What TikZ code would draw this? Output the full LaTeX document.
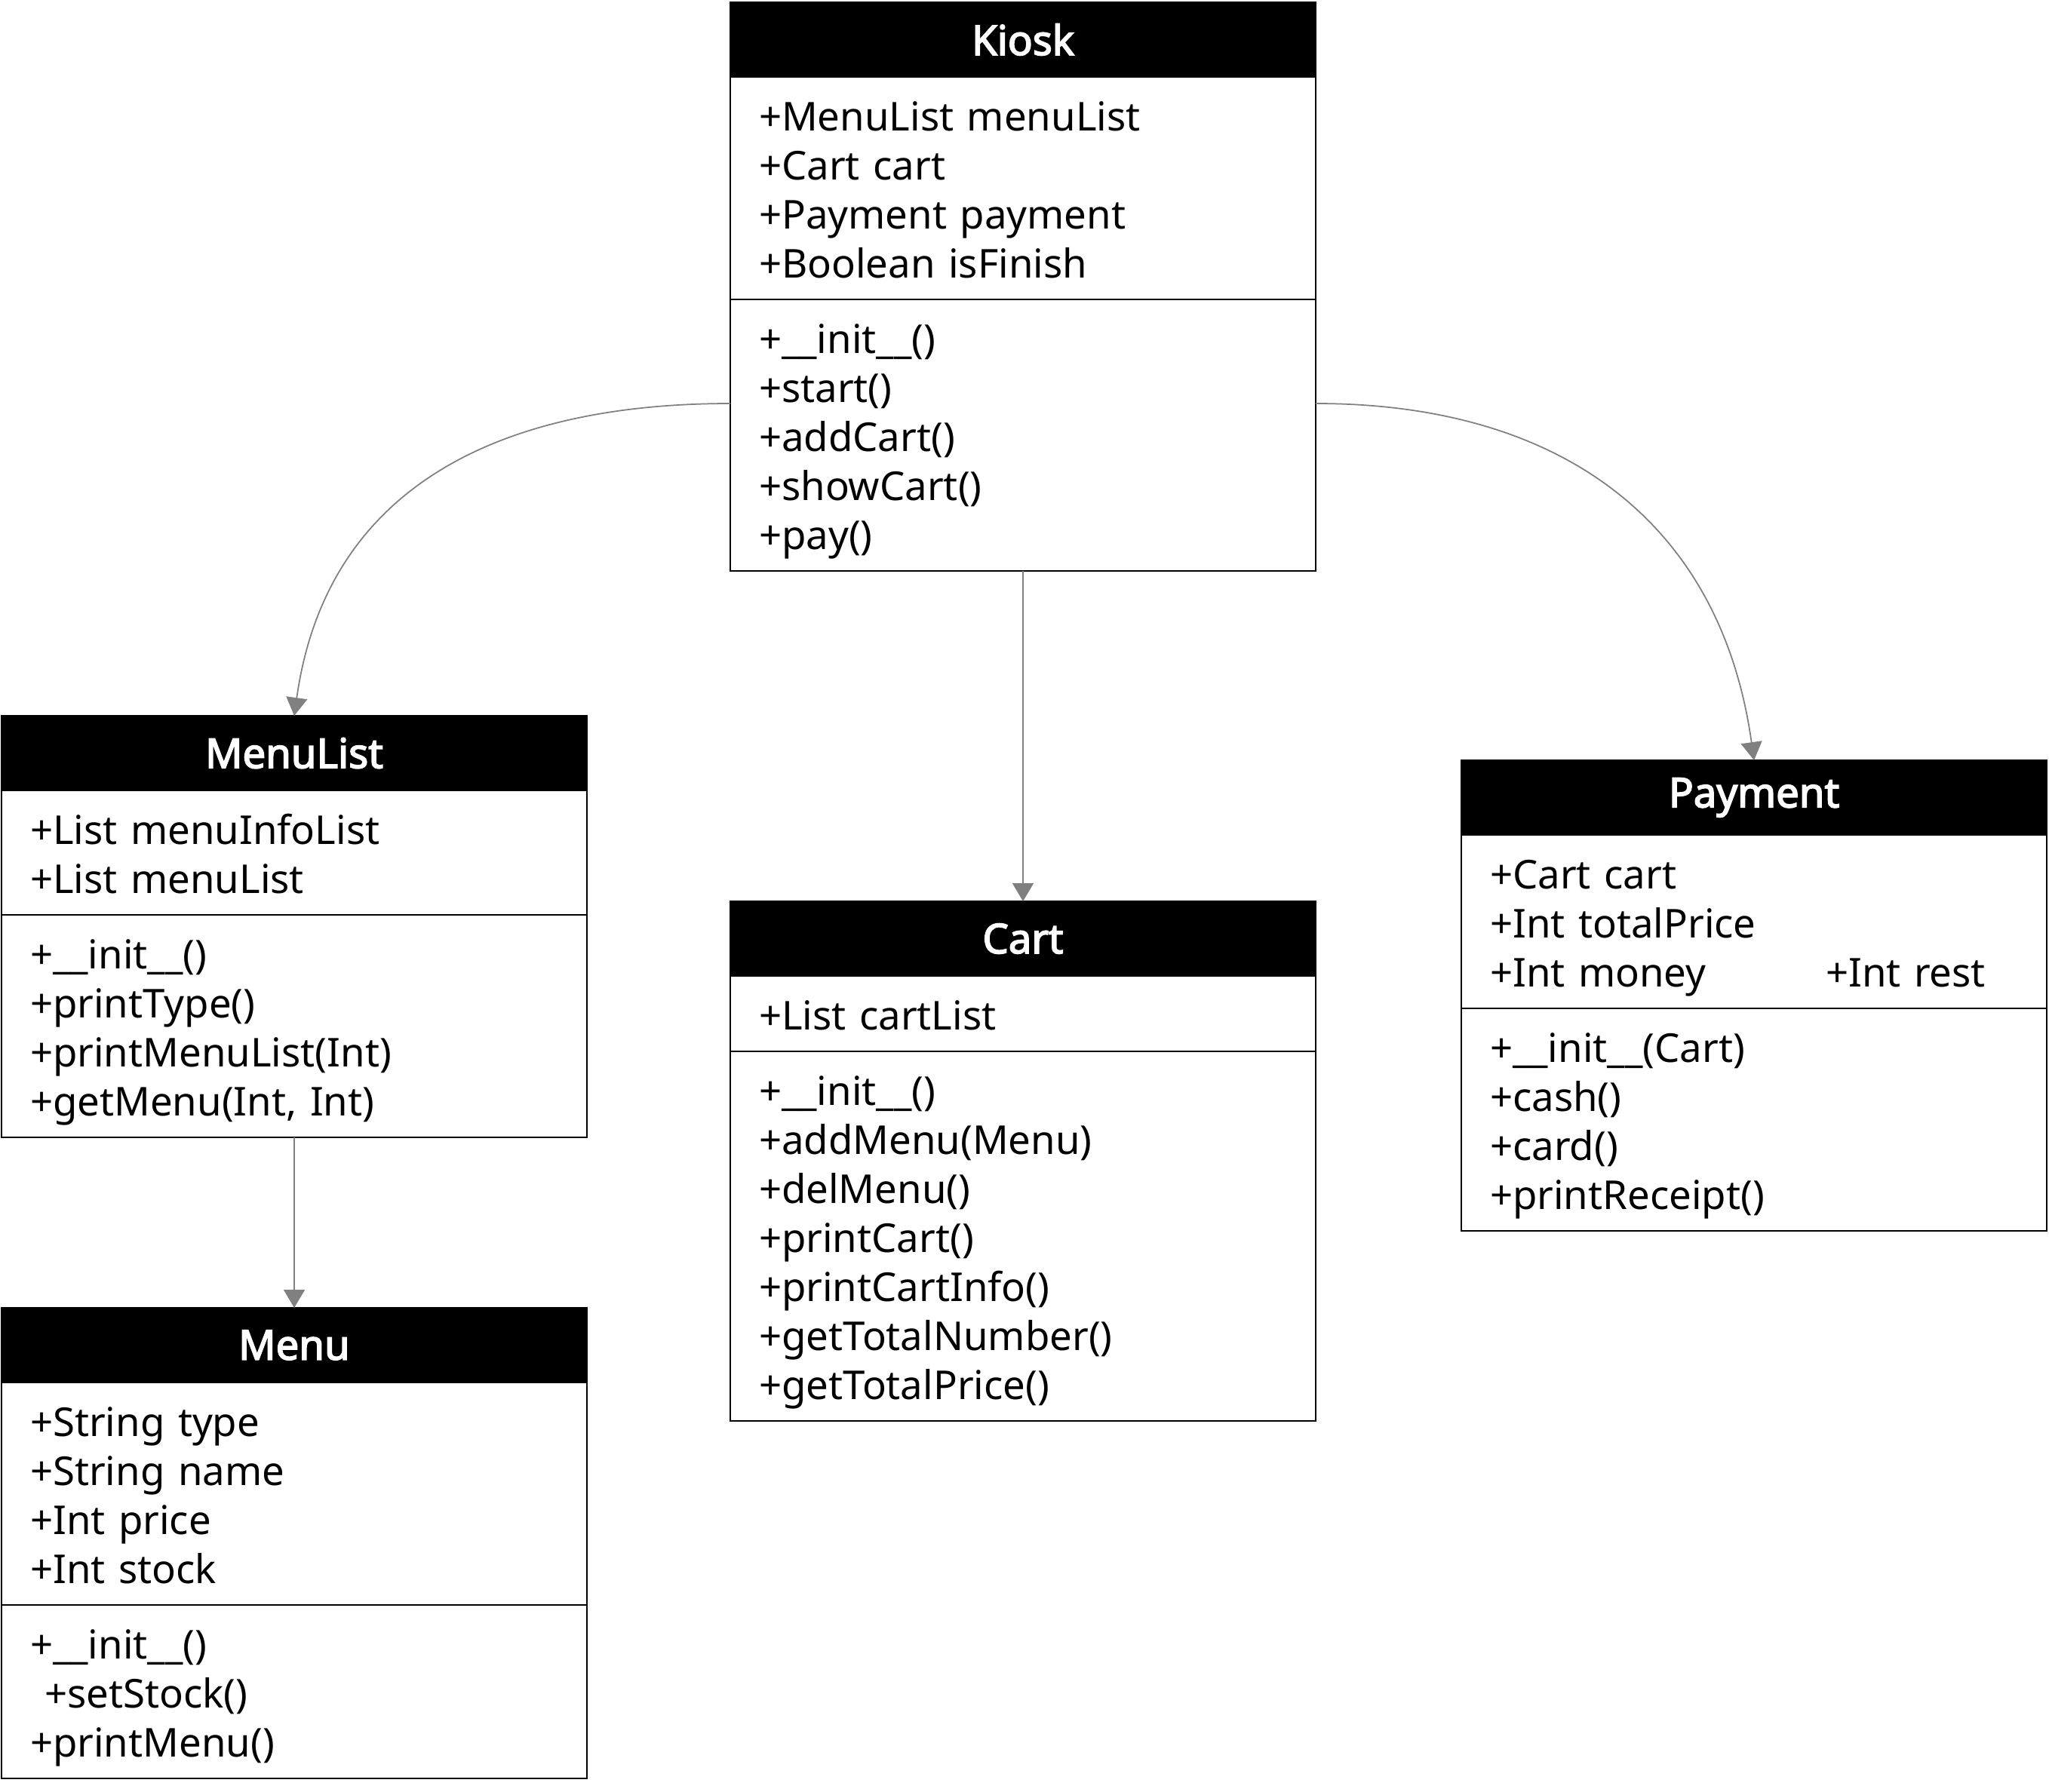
\documentclass[tikz,border=0pt]{standalone}
\usepackage{fontspec}
\setmainfont{Noto Sans}
\newfontfamily\headfont{Noto Sans}[FakeBold=3]
\usetikzlibrary{positioning,arrows.meta}
\newcommand\topstrut{\rule{0pt}{0.58cm}}
\newcommand\botstrut{\rule[-0.15cm]{0pt}{0.15cm}}

\tikzset{
  head/.style={draw=black,fill=black,text=white,font=\fontsize{15.5pt}{18.5pt}\headfont,
    minimum width=7.76cm,minimum height=0.99cm,inner sep=0pt,outer sep=0pt,line width=0.8pt},
  part/.style={draw=black,fill=white,font=\fontsize{15pt}{18.5pt}\selectfont,
    text width=7.0cm,align=left,inner xsep=0.38cm,inner ysep=0pt,outer sep=0pt,
    execute at begin node=\topstrut,execute at end node=\botstrut,line width=0.8pt},
  rows/.style={part,minimum height={0.35cm+#1*0.65cm}},
  link/.style={draw=gray,line width=0.5pt,-{Triangle[length=0.24cm,width=0.28cm]}}
}

\begin{document}
\begin{tikzpicture}
    \useasboundingbox (0,0) rectangle (27.16,-23.75);

    \node[head,anchor=north west] (kiosk) at (9.68,-0.03) {Kiosk};
    \node[rows=4,below=0pt of kiosk] (kioskattr) {+MenuList menuList\\+Cart cart\\+Payment payment\\+Boolean isFinish};
    \node[rows=5,below=0pt of kioskattr] (kioskops) {+\_\_init\_\_()\\+start()\\+addCart()\\+showCart()\\+pay()};

    \node[head,anchor=north west] (menulist) at (0.02,-9.49) {MenuList};
    \node[rows=2,below=0pt of menulist] (menulistattr) {+List menuInfoList\\+List menuList};
    \node[rows=4,below=0pt of menulistattr] (menulistops) {+\_\_init\_\_()\\+printType()\\+printMenuList(Int)\\+getMenu(Int, Int)};

    \node[head,anchor=north west] (menu) at (0.02,-17.34) {Menu};
    \node[rows=4,below=0pt of menu] (menuattr) {+String type\\+String name\\+Int price\\+Int stock};
    \node[rows=3,below=0pt of menuattr] (menuops) {+\_\_init\_\_()\\\hspace*{0.19cm}+setStock()\\+printMenu()};

    \node[head,anchor=north west] (cart) at (9.68,-11.95) {Cart};
    \node[rows=1,below=0pt of cart] (cartattr) {+List cartList};
    \node[rows=7,below=0pt of cartattr] (cartops) {+\_\_init\_\_()\\+addMenu(Menu)\\+delMenu()\\+printCart()\\+printCartInfo()\\+getTotalNumber()\\+getTotalPrice()};

    \node[head,anchor=north west] (payment) at (19.37,-10.08) {Payment};
    \node[rows=3,below=0pt of payment] (paymentattr) {+Cart cart\\+Int totalPrice\\\makebox[4.45cm][l]{+Int money}+Int rest};
    \node[rows=4,below=0pt of paymentattr] (paymentops) {+\_\_init\_\_(Cart)\\+cash()\\+card()\\+printReceipt()};

    \path[link] ([yshift=0.42cm]kioskops.west) to[out=180,in=82,looseness=1.1] (menulist.north);
    \path[link] ([yshift=0.42cm]kioskops.east) to[out=0,in=98,looseness=1.1] (payment.north);
    \path[link] (kioskops.south) -- (cart.north);
    \path[link] (menulistops.south) -- (menu.north);
\end{tikzpicture}
\end{document}
